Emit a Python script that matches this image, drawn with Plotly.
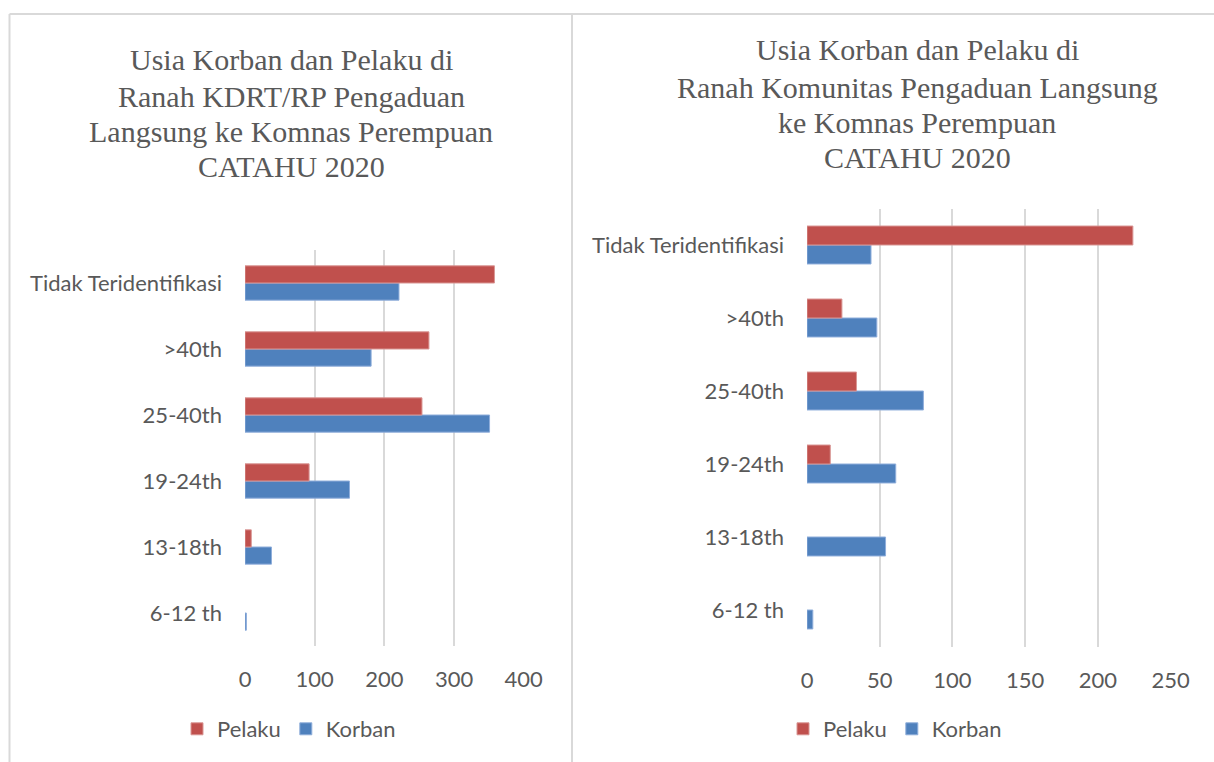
import plotly.graph_objects as go

W, H = 1214, 762

categories = ["6-12 th", "13-18th", "19-24th", "25-40th", ">40th", "Tidak Teridentifikasi"]

kdrt_pelaku = [0, 9, 92, 254, 264, 358]
kdrt_korban = [2, 38, 150, 351, 181, 221]

kom_pelaku = [0, 0, 16, 34, 24, 224]
kom_korban = [4, 54, 61, 80, 48, 44]

title_left = ["Usia Korban dan Pelaku di", "Ranah KDRT/RP Pengaduan",
              "Langsung ke Komnas Perempuan", "CATAHU 2020"]
title_right = ["Usia Korban dan Pelaku di", "Ranah Komunitas Pengaduan Langsung",
               "ke Komnas Perempuan", "CATAHU 2020"]

RED = "#C0504D"
BLUE = "#4F81BD"
TXT = "#595959"
GRID = "#D9D9D9"
SANS = "Lato, 'Open Sans', sans-serif"
SERIF = "'Liberation Serif', 'DejaVu Serif', serif"


def px(x):
    return x / W


def py(y):
    return 1 - y / H


def nz(vals):
    return [v if v else None for v in vals]


fig = go.Figure()

fig.add_trace(go.Bar(y=categories, x=nz(kdrt_korban), orientation="h", name="Korban",
                     marker=dict(color=BLUE, line=dict(color="#8FAEDB", width=1)),
                     xaxis="x", yaxis="y", legend="legend"))
fig.add_trace(go.Bar(y=categories, x=nz(kdrt_pelaku), orientation="h", name="Pelaku",
                     marker=dict(color=RED, line=dict(color="#D99694", width=1)),
                     xaxis="x", yaxis="y", legend="legend"))
fig.add_trace(go.Bar(y=categories, x=nz(kom_korban), orientation="h", name="Korban",
                     marker=dict(color=BLUE, line=dict(color="#8FAEDB", width=1)),
                     xaxis="x2", yaxis="y2", legend="legend2"))
fig.add_trace(go.Bar(y=categories, x=nz(kom_pelaku), orientation="h", name="Pelaku",
                     marker=dict(color=RED, line=dict(color="#D99694", width=1)),
                     xaxis="x2", yaxis="y2", legend="legend2"))

xcommon = dict(showgrid=True, gridcolor=GRID, gridwidth=2, zeroline=False, showline=False,
               tickfont=dict(family=SANS, size=22, color=TXT), ticks="", ticklabelstandoff=18,
               fixedrange=True, automargin=False)
ycommon = dict(showgrid=False, zeroline=False, showline=False, ticks="",
               tickfont=dict(family=SANS, size=22, color=TXT), ticklabelstandoff=22,
               categoryorder="array", categoryarray=categories, fixedrange=True,
               automargin=False)

annotations = []
for line, yc in zip(title_left, [60, 96, 131, 166]):
    annotations.append(dict(text=line, x=px(291), y=py(yc), xref="paper", yref="paper",
                            xanchor="center", yanchor="middle", showarrow=False,
                            font=dict(family=SERIF, size=30, color=TXT)))
for line, yc in zip(title_right, [49, 87, 122, 157]):
    annotations.append(dict(text=line, x=px(917), y=py(yc), xref="paper", yref="paper",
                            xanchor="center", yanchor="middle", showarrow=False,
                            font=dict(family=SERIF, size=30, color=TXT)))

fig.update_layout(
    width=W, height=H,
    margin=dict(l=0, r=0, t=0, b=0, autoexpand=False),
    paper_bgcolor="white", plot_bgcolor="white",
    barmode="group", bargap=0.48, bargroupgap=0,
    xaxis=dict(domain=[px(245), px(523.7)], range=[0, 400], dtick=100, anchor="y", **xcommon),
    yaxis=dict(domain=[py(646), py(250)], anchor="x", **ycommon),
    xaxis2=dict(domain=[px(807), px(1170.7)], range=[0, 250], dtick=50, anchor="y2", **xcommon),
    yaxis2=dict(domain=[py(646.5), py(208.5)], anchor="x2", **ycommon),
    legend=dict(orientation="h", x=px(289), y=py(729), xanchor="center", yanchor="middle",
                traceorder="reversed", font=dict(family=SANS, size=22, color=TXT),
                bgcolor="rgba(0,0,0,0)", itemwidth=30),
    legend2=dict(orientation="h", x=px(895), y=py(729), xanchor="center", yanchor="middle",
                 traceorder="reversed", font=dict(family=SANS, size=22, color=TXT),
                 bgcolor="rgba(0,0,0,0)", itemwidth=30),
    annotations=annotations,
    shapes=[
        dict(type="line", xref="paper", yref="paper", x0=px(9.5), x1=px(9.5), y0=py(14), y1=0,
             line=dict(color=GRID, width=2)),
        dict(type="line", xref="paper", yref="paper", x0=px(9.5), x1=1, y0=py(14), y1=py(14),
             line=dict(color=GRID, width=2)),
        dict(type="line", xref="paper", yref="paper", x0=px(572), x1=px(572), y0=py(14), y1=0,
             line=dict(color=GRID, width=2)),
    ],
    showlegend=True,
    hovermode=False,
)

fig.write_html("out.html", config={"displayModeBar": False},
               post_script="document.body.style.margin='0';document.body.style.overflow='hidden';")
